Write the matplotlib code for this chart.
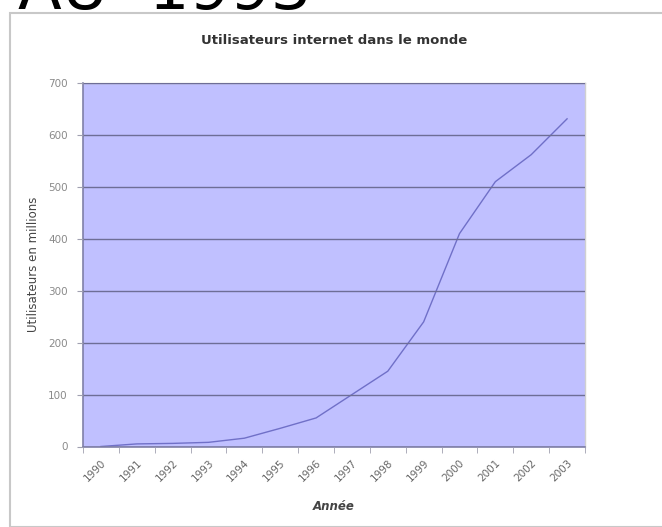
import matplotlib.pyplot as plt
import numpy as np
from matplotlib.patches import Rectangle

annees = ['1990', '1991', '1992', '1993', '1994', '1995', '1996',
          '1997', '1998', '1999', '2000', '2001', '2002', '2003']
utilisateurs = [0, 5, 6, 8, 16, 35, 55, 100, 145, 240, 410, 510, 562, 631]
yticks = [0, 100, 200, 300, 400, 500, 600, 700]

fig = plt.figure(figsize=(6.62, 5.27), dpi=100)

# big slide heading, mostly cut off at the top
fig.text(18 / 662, 1 - 9 / 527, 'AU  1993', fontsize=46, color='black',
         ha='left', va='baseline')

# light grey frame around the chart
fig.patches.append(Rectangle((10 / 662, 0), 1, 1 - 13 / 527,
                             transform=fig.transFigure, fill=False,
                             edgecolor='#c8c8c8', linewidth=1.5))

ax = fig.add_axes([83 / 662, 1 - 446.5 / 527, 502 / 662, 363.5 / 527])
ax.set_facecolor('#c0c0ff')

x = np.arange(len(annees))
ax.plot(x, utilisateurs, color='#7070c8', linewidth=1)

ax.set_xlim(-0.5, len(annees) - 0.5)
ax.set_ylim(0, 700)
ax.set_yticks(yticks)
ax.set_yticklabels([str(v) for v in yticks], fontsize=7.5, color='#8a8a8a')
ax.yaxis.grid(True, color='#6e6e96', linewidth=1)
ax.set_axisbelow(False)

ax.set_xticks(x)
ax.set_xticklabels(annees, rotation=45, ha='right', rotation_mode='anchor',
                   fontsize=7.5, color='#666666')
ax.set_xticks(np.arange(-0.5, len(annees)), minor=True)
ax.tick_params(axis='x', which='major', length=0, pad=8)
ax.tick_params(axis='x', which='minor', length=4, color='#a0a0b0', direction='out')
ax.tick_params(axis='y', length=4, color='#a0a0b0', direction='out', pad=7)

for side in ['left', 'bottom']:
    ax.spines[side].set_color('#8080a8')
    ax.spines[side].set_linewidth(1.2)
for side in ['right', 'top']:
    ax.spines[side].set_color('#d0d0d0')
    ax.spines[side].set_linewidth(1)

ax.set_title('Utilisateurs internet dans le monde', fontsize=9.5,
             fontweight='bold', color='#333333', pad=28)
ax.set_ylabel('Utilisateurs en millions', fontsize=8.5, color='#444444', labelpad=6)
ax.set_xlabel('Année', fontsize=8.5, fontstyle='italic', fontweight='bold',
              color='#444444', labelpad=12)

fig.savefig('out.png', dpi=100)
